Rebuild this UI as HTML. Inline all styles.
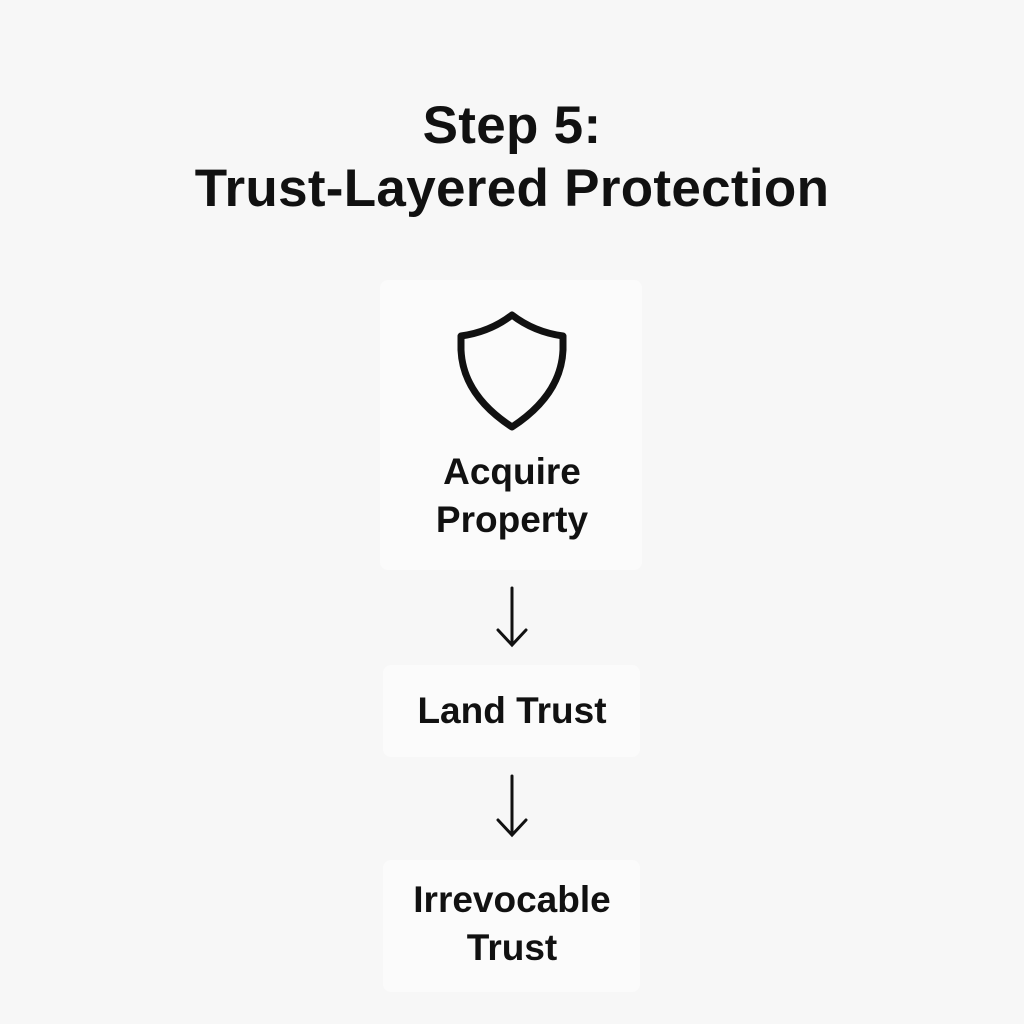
<!DOCTYPE html>
<html><head><style>
html,body{margin:0;padding:0;width:1024px;height:1024px;background:#f7f7f7;overflow:hidden}
body{position:relative;font-family:"Liberation Sans",Arial,sans-serif;color:#111}
.t{position:absolute;left:0;width:1024px;text-align:center;font-weight:bold;font-size:53px;line-height:63px;letter-spacing:0.3px}
.box{position:absolute;background:#fbfbfb;border-radius:8px}
.n{position:absolute;left:0;width:1024px;text-align:center;font-weight:bold;font-size:37px;line-height:48px}
</style></head><body>
<div class="t" style="top:94px">Step 5:<br>Trust-Layered Protection</div>
<div class="box" style="left:380px;top:280px;width:262px;height:290px"></div>
<div class="box" style="left:383px;top:665px;width:257px;height:92px"></div>
<div class="box" style="left:383px;top:860px;width:257px;height:132px"></div>
<svg style="position:absolute;left:0;top:0" width="1024" height="1024">
<path d="M512 315 Q490 332 461 336 L461 350 Q463 395 512 427 Q561 395 563 350 L563 336 Q534 332 512 315 Z" fill="none" stroke="#111" stroke-width="7" stroke-linejoin="round"/>
<g stroke="#111" stroke-width="3" fill="none" stroke-linecap="round">
<path d="M512 588 V644 M498 630 L512 645 L526 630"/>
<path d="M512 776 V834 M498 820 L512 835 L526 820"/>
</g>
</svg>
<div class="n" style="top:448px">Acquire<br>Property</div>
<div class="n" style="top:687px">Land Trust</div>
<div class="n" style="top:876px">Irrevocable<br>Trust</div>
</body></html>
